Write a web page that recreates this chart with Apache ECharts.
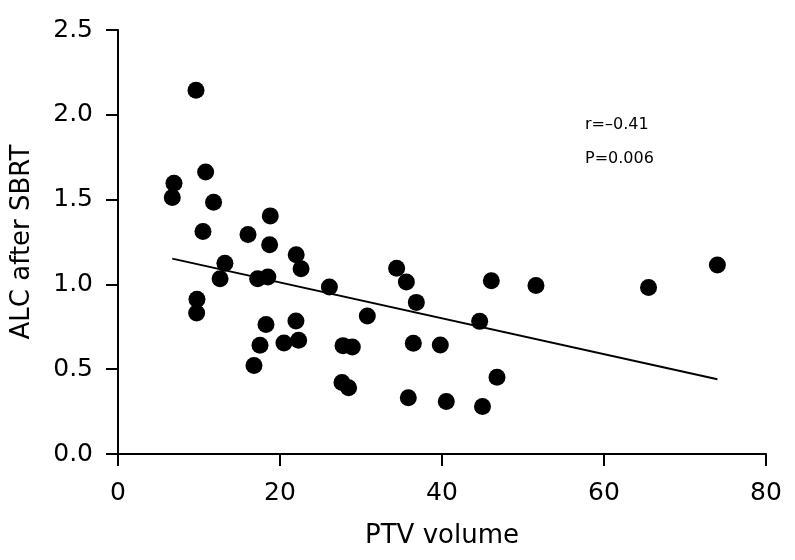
<!DOCTYPE html>
<html>
<head>
<meta charset="utf-8">
<script src="https://cdn.jsdelivr.net/npm/echarts@6/dist/echarts.min.js"></script>
<style>html,body{margin:0;padding:0;background:#fff;}#chart{width:795px;height:560px;}</style>
</head>
<body>
<div id="chart"></div>
<script>
const ptvVolume = [9.63, 6.91, 6.70, 10.82, 11.8, 10.49, 16.05, 18.8, 18.72, 22.0, 22.6, 13.2, 12.6, 17.24, 18.5, 26.1, 34.4, 9.75, 9.71, 18.27, 21.97, 30.78, 17.53, 20.49, 22.3, 27.78, 28.93, 16.79, 27.65, 28.47, 35.6, 36.83, 46.09, 51.6, 44.65, 36.46, 39.79, 46.79, 35.84, 40.53, 45.0, 65.5, 74.0];
const alcAfterSBRT = [2.145, 1.596, 1.512, 1.663, 1.484, 1.312, 1.294, 1.404, 1.234, 1.175, 1.092, 1.125, 1.033, 1.033, 1.043, 0.984, 1.095, 0.912, 0.831, 0.763, 0.784, 0.814, 0.641, 0.655, 0.671, 0.639, 0.631, 0.522, 0.422, 0.39, 1.014, 0.894, 1.022, 0.994, 0.782, 0.653, 0.643, 0.453, 0.331, 0.31, 0.28, 0.982, 1.114];
const fitX = [6.7, 74.0];
const fitY = [1.152, 0.441];
const annotations = ['r=\u20130.41', 'P=0.006'];

const FONT = 'DejaVu Sans';
const chart = echarts.init(document.getElementById('chart'));
chart.setOption({
  animation: false,
  backgroundColor: '#fff',
  grid: { left: 118, right: 29, top: 30, bottom: 106 },
  xAxis: {
    type: 'value', min: 0, max: 80, interval: 20,
    name: 'PTV volume', nameLocation: 'middle', nameGap: 69,
    nameTextStyle: { fontFamily: FONT, fontSize: 26, color: '#000' },
    axisLine: { show: true, lineStyle: { color: '#000', width: 2 } },
    axisTick: { show: true, inside: false, length: 12, lineStyle: { color: '#000', width: 2 } },
    axisLabel: { margin: 27, fontFamily: FONT, fontSize: 25, color: '#000' },
    splitLine: { show: false }
  },
  yAxis: {
    type: 'value', min: 0, max: 2.5, interval: 0.5,
    name: 'ALC after SBRT', nameLocation: 'middle', nameGap: 83,
    nameTextStyle: { fontFamily: FONT, fontSize: 26, color: '#000' },
    axisLine: { show: true, lineStyle: { color: '#000', width: 2 } },
    axisTick: { show: true, inside: false, length: 12, lineStyle: { color: '#000', width: 2 } },
    axisLabel: { margin: 25, fontFamily: FONT, fontSize: 25, color: '#000', formatter: v => v.toFixed(1) },
    splitLine: { show: false }
  },
  series: [
    {
      type: 'line',
      data: fitX.map((x, i) => [x, fitY[i]]),
      symbol: 'none',
      lineStyle: { color: '#000', width: 2 },
      z: 1
    },
    {
      type: 'scatter',
      data: ptvVolume.map((x, i) => [x, alcAfterSBRT[i]]),
      symbol: 'circle',
      symbolSize: 17,
      itemStyle: { color: '#000', opacity: 1 },
      z: 2
    }
  ],
  graphic: [
    { type: 'text', left: 585, top: 117, style: { text: annotations[0], fontFamily: FONT, fontSize: 16, fill: '#000' } },
    { type: 'text', left: 585, top: 151, style: { text: annotations[1], fontFamily: FONT, fontSize: 16, fill: '#000' } }
  ]
});
</script>
</body>
</html>
